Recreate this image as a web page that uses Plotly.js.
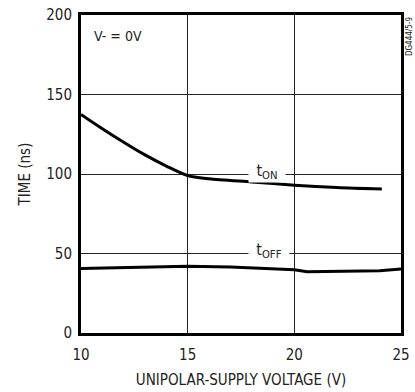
<!DOCTYPE html>
<html>
<head>
<meta charset="utf-8">
<script src="https://cdn.plot.ly/plotly-3.0.1.min.js"></script>
<style>html,body{margin:0;padding:0;background:#fff;}#chart{width:415px;height:392px;}</style>
</head>
<body>
<div id="chart"></div>
<script>
// Data
var voltageOn = [10, 11, 12, 13, 14, 15, 16, 18, 20, 22, 24.1];
var timeOn    = [137.5, 128.5, 120, 112, 105, 99, 97, 95, 93, 91.5, 90.5];
var voltageOff = [10, 12, 15, 17, 20, 20.6, 22.5, 24, 25];
var timeOff    = [40.5, 41, 42, 41.5, 39.8, 38.5, 38.7, 39.2, 40.2];
var xTicks = [10, 15, 20, 25];
var yTicks = [0, 50, 100, 150, 200];

var FONT = "'Liberation Sans Narrow', 'DejaVu Sans Condensed', 'Arial Narrow', sans-serif";

var traces = [
  {x: voltageOn, y: timeOn, mode: 'lines', line: {color: '#000', width: 3, shape: 'spline', smoothing: 0.8}, hoverinfo: 'skip'},
  {x: voltageOff, y: timeOff, mode: 'lines', line: {color: '#000', width: 3}, hoverinfo: 'skip'}
];

var layout = {
  width: 415, height: 392,
  margin: {l: 81, r: 14, t: 15, b: 59},
  paper_bgcolor: '#fff', plot_bgcolor: '#fff',
  showlegend: false,
  font: {family: FONT, color: '#222', size: 15},
  xaxis: {
    range: [10, 25], tickvals: xTicks, ticktext: xTicks.map(String),
    showgrid: true, gridcolor: '#222', gridwidth: 1,
    showline: true, linecolor: '#000', linewidth: 3, mirror: true,
    zeroline: false, ticks: '', ticklen: 0, ticklabelstandoff: 6,
    tickfont: {family: FONT, size: 15, color: '#222'},
    title: {text: 'UNIPOLAR-SUPPLY VOLTAGE (V)', font: {family: FONT, size: 15, color: '#222'}, standoff: 12}
  },
  yaxis: {
    range: [0, 200], tickvals: yTicks, ticktext: yTicks.map(String),
    showgrid: true, gridcolor: '#222', gridwidth: 1,
    showline: true, linecolor: '#000', linewidth: 3, mirror: true,
    zeroline: false, ticks: '', ticklen: 0, ticklabelstandoff: 3,
    tickfont: {family: FONT, size: 15, color: '#222'},
    title: {text: 'TIME (ns)', font: {family: FONT, size: 15, color: '#222'}, standoff: 12}
  },
  annotations: [
    {x: 18.7, y: 100, xref: 'x', yref: 'y', text: 't<sub>ON</sub>', showarrow: false,
     bgcolor: '#fff', width: 36, borderpad: 0, yshift: 3,
     font: {family: FONT, size: 16, color: '#222'}},
    {x: 18.8, y: 50, xref: 'x', yref: 'y', text: 't<sub>OFF</sub>', showarrow: false,
     bgcolor: '#fff', width: 40, borderpad: 0, yshift: 3,
     font: {family: FONT, size: 16, color: '#222'}},
    {x: 0.035, y: 0.965, xref: 'paper', yref: 'paper', xanchor: 'left', yanchor: 'top',
     text: 'V- = 0V', showarrow: false, font: {family: FONT, size: 14, color: '#222'}},
    {x: 1, y: 1, xref: 'paper', yref: 'paper', xanchor: 'left', yanchor: 'top', xshift: 2,
     text: 'DG444/5-9', textangle: -90, showarrow: false, font: {family: FONT, size: 8, color: '#222'}}
  ]
};

Plotly.newPlot('chart', traces, layout, {staticPlot: true, displayModeBar: false});
</script>
</body>
</html>
